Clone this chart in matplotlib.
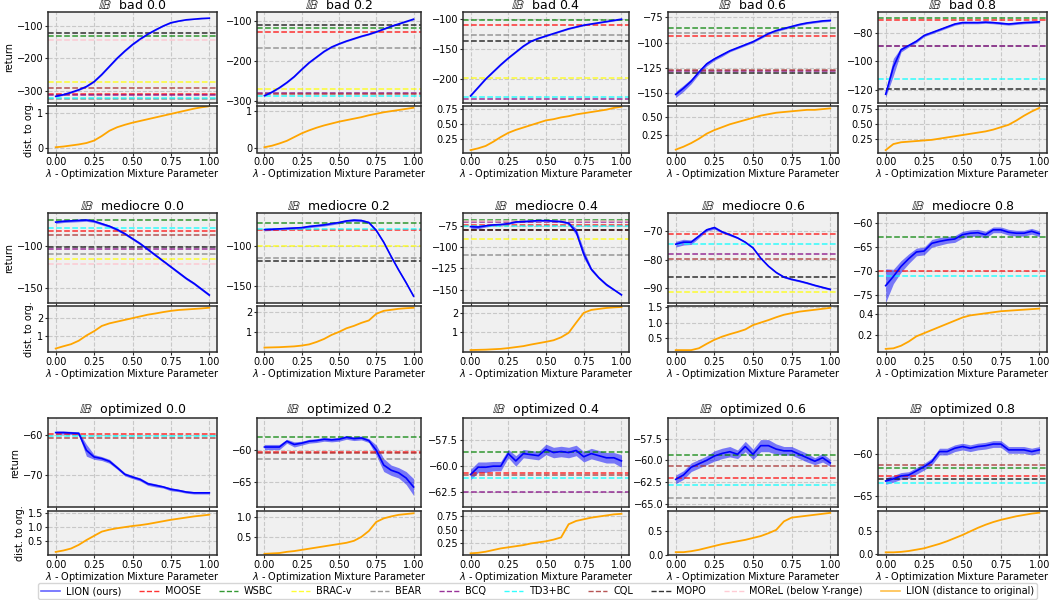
import numpy as np
import matplotlib
matplotlib.use("Agg")
import matplotlib.pyplot as plt
from matplotlib.lines import Line2D

# mixture parameter grid
LAMBDA = [0.0, 0.05, 0.1, 0.15, 0.2, 0.25, 0.3, 0.35, 0.4, 0.45, 0.5,
          0.55, 0.6, 0.65, 0.7, 0.75, 0.8, 0.85, 0.9, 0.95, 1.0]

METHODS = ["MOOSE", "WSBC", "BRAC-v", "BEAR", "BCQ", "TD3+BC", "CQL", "MOPO", "MOReL"]
METHOD_COLORS = {"MOOSE": "red", "WSBC": "green", "BRAC-v": "yellow", "BEAR": "gray",
                 "BCQ": "purple", "TD3+BC": "cyan", "CQL": "brown", "MOPO": "black",
                 "MOReL": "pink"}

# ---- bad ----
RET_BAD_00 = [-317, -312, -305, -297, -287, -272, -250, -225, -200, -178, -158,
              -141, -126, -113, -101, -91, -86, -82, -80, -78, -77]
SD_BAD_00 = [2, 2, 2, 2, 2, 2, 2, 2, 2, 2, 2, 2, 1.5, 1.5, 1.5, 1.5, 1, 1, 1, 1, 1]
DIST_BAD_00 = [0.03, 0.05, 0.08, 0.11, 0.15, 0.22, 0.35, 0.5, 0.6, 0.67, 0.73,
               0.78, 0.83, 0.88, 0.93, 0.98, 1.03, 1.08, 1.13, 1.17, 1.2]
BASE_BAD_00 = {"MOPO": -123, "WSBC": -133, "MOReL": -144, "BRAC-v": -272, "CQL": -292,
               "MOOSE": -311, "BCQ": -313, "TD3+BC": -322, "BEAR": -326}

RET_BAD_02 = [-288, -279, -268, -255, -240, -222, -205, -191, -177, -166, -158,
              -151, -145, -139, -134, -128, -121, -114, -108, -102, -96]
SD_BAD_02 = [1.5, 1.5, 1.5, 1.5, 1.5, 1.5, 1.5, 1.5, 1.5, 1.5, 1.5, 1.5, 1.5, 1.5,
             1.5, 1.5, 1.5, 1.5, 1.5, 1.5, 1.5]
DIST_BAD_02 = [0.03, 0.07, 0.13, 0.2, 0.3, 0.4, 0.48, 0.55, 0.61, 0.66, 0.71,
               0.75, 0.79, 0.83, 0.88, 0.92, 0.96, 0.99, 1.02, 1.05, 1.08]
BASE_BAD_02 = {"MOPO": -110, "WSBC": -117, "MOOSE": -128, "BEAR": -168, "BRAC-v": -271,
               "BCQ": -282, "CQL": -283, "TD3+BC": -289}

RET_BAD_04 = [-229, -215, -201, -189, -177, -166, -156, -146, -138, -133, -129,
              -125, -121, -117, -114, -111, -109, -107, -105, -103, -101]
SD_BAD_04 = [1, 1, 1, 1, 1, 1, 1, 1, 1, 1, 1, 1, 1, 1, 1, 1, 1, 1, 1, 1, 1]
DIST_BAD_04 = [0.06, 0.09, 0.13, 0.2, 0.28, 0.35, 0.4, 0.44, 0.48, 0.52, 0.56,
               0.58, 0.61, 0.63, 0.66, 0.68, 0.7, 0.72, 0.74, 0.77, 0.79]
BASE_BAD_04 = {"WSBC": -103, "MOOSE": -110, "BEAR": -128, "MOPO": -138, "BRAC-v": -199,
               "TD3+BC": -230, "BCQ": -234}

RET_BAD_06 = [-151, -145, -138, -129, -121, -116, -112, -108, -105, -102, -99,
              -95, -91, -88, -86, -84, -82, -80.5, -79.5, -78.5, -78]
SD_BAD_06 = [3, 3, 2.5, 2, 2, 1.5, 1.5, 1, 1, 1, 1, 1, 1, 1, 1, 1, 1, 1, 1, 1, 1]
DIST_BAD_06 = [0.05, 0.09, 0.14, 0.2, 0.27, 0.32, 0.36, 0.4, 0.43, 0.46, 0.49,
               0.52, 0.54, 0.56, 0.57, 0.58, 0.59, 0.6, 0.6, 0.61, 0.62]
BASE_BAD_06 = {"WSBC": -85, "BEAR": -90, "MOOSE": -93, "CQL": -127, "BCQ": -127.6,
               "MOPO": -129.6}

RET_BAD_08 = [-123, -104, -92, -89, -86, -82, -80, -78, -76, -74, -73,
              -73, -73, -72.7, -73, -73.5, -74, -73.5, -73, -72.8, -72.5]
SD_BAD_08 = [2, 6, 1.5, 1, 1, 0.8, 0.8, 0.8, 0.8, 0.8, 0.8, 0.8, 0.8, 0.8, 0.8,
             0.8, 0.8, 0.8, 0.8, 0.8, 0.8]
DIST_BAD_08 = [0.06, 0.16, 0.19, 0.2, 0.21, 0.22, 0.23, 0.25, 0.27, 0.29, 0.31,
               0.33, 0.35, 0.37, 0.4, 0.44, 0.48, 0.55, 0.63, 0.7, 0.76]
BASE_BAD_08 = {"WSBC": -70, "MOOSE": -71.2, "BCQ": -89.3, "BEAR": -89.6,
               "TD3+BC": -112.3, "MOPO": -119.3}

# ---- mediocre ----
RET_MED_00 = [-71, -70, -69.5, -69, -68.5, -70, -73, -76, -80, -85, -91,
              -97, -104, -111, -118, -125, -132, -139, -145, -152, -159]
SD_MED_00 = [1.5, 1.5, 1.5, 1.5, 1.5, 1.5, 1.5, 1.5, 1.5, 1.5, 1.5, 1.5, 1.5, 1.5,
             1.5, 1.5, 1.5, 1.5, 1.5, 1.5, 1.5]
DIST_MED_00 = [0.25, 0.38, 0.5, 0.7, 1.0, 1.25, 1.55, 1.7, 1.8, 1.9, 2.0,
               2.1, 2.2, 2.27, 2.35, 2.42, 2.47, 2.5, 2.53, 2.56, 2.6]
BASE_MED_00 = {"WSBC": -68.8, "TD3+BC": -78.4, "MOOSE": -82, "CQL": -87, "MOPO": -101.5,
               "BCQ": -103, "BEAR": -110, "BRAC-v": -116, "MOReL": -121}

RET_MED_02 = [-79, -78.5, -78, -77.5, -77, -76.5, -75, -74, -73, -71.5, -70,
              -68, -67, -67.5, -70, -80, -95, -113, -130, -146, -163]
SD_MED_02 = [1.5, 1.5, 1.5, 1.5, 1.5, 1.5, 1.5, 1.5, 1.5, 1.5, 1.5, 1.5, 1.5, 1.5,
             1.5, 1.5, 1.5, 1.5, 1.5, 1.5, 1.5]
DIST_MED_02 = [0.22, 0.23, 0.24, 0.26, 0.28, 0.32, 0.38, 0.5, 0.65, 0.85, 1.0,
               1.18, 1.3, 1.45, 1.57, 1.9, 2.05, 2.1, 2.15, 2.18, 2.2]
BASE_MED_02 = {"WSBC": -70, "TD3+BC": -78.3, "MOOSE": -80, "BRAC-v": -100,
               "BEAR": -115.4, "MOPO": -118.8}

RET_MED_04 = [-76, -76.5, -75, -74, -73.5, -72.5, -70.5, -70, -69.5, -69, -69,
              -69.5, -70, -72, -82, -108, -126, -136, -144, -150, -156]
SD_MED_04 = [2, 2, 1.5, 1, 1, 1, 1, 1, 1, 1, 1, 1, 1, 1.5, 4, 5, 2, 1.5, 1.5, 1, 1]
DIST_MED_04 = [0.1, 0.11, 0.12, 0.14, 0.16, 0.2, 0.25, 0.3, 0.38, 0.45, 0.52,
               0.6, 0.75, 0.98, 1.5, 2.0, 2.15, 2.2, 2.25, 2.28, 2.3]
BASE_MED_04 = {"WSBC": -68, "MOReL": -69.5, "BCQ": -70.7, "MOOSE": -74, "TD3+BC": -75.8,
               "CQL": -79.5, "MOPO": -80.5, "BRAC-v": -90.6, "BEAR": -109.8}

RET_MED_06 = [-74.5, -73.8, -73.8, -71.7, -69.5, -68.7, -70.2, -71.2, -72.3, -73.8, -75.8,
              -79.4, -82.2, -84.4, -86, -86.8, -87.4, -88.1, -88.9, -89.6, -90.3]
SD_MED_06 = [1, 1, 0.8, 0.6, 0.5, 0.5, 0.4, 0.4, 0.3, 0.3, 0.3, 0.3, 0.3, 0.3, 0.3,
             0.3, 0.3, 0.3, 0.3, 0.3, 0.3]
DIST_MED_06 = [0.12, 0.12, 0.12, 0.18, 0.32, 0.45, 0.55, 0.63, 0.7, 0.78, 0.92,
               1.0, 1.08, 1.17, 1.25, 1.3, 1.35, 1.38, 1.41, 1.44, 1.47]
BASE_MED_06 = {"MOOSE": -70.8, "TD3+BC": -74.3, "BCQ": -78, "CQL": -79.6, "MOPO": -86.1,
               "BRAC-v": -91.3}

RET_MED_08 = [-73, -71.1, -69, -67.4, -66, -65.8, -64.2, -63.8, -63.5, -63.3, -62.4,
              -62.1, -62, -62.4, -61.4, -61.4, -61.9, -62.1, -62.1, -61.7, -62.2]
SD_MED_08 = [3.5, 1.5, 1.2, 1, 0.8, 0.8, 0.8, 0.8, 0.7, 0.7, 0.7, 0.7, 0.7, 0.7, 0.6,
             0.6, 0.6, 0.6, 0.6, 0.6, 0.6]
DIST_MED_08 = [0.07, 0.075, 0.1, 0.14, 0.19, 0.22, 0.25, 0.28, 0.31, 0.34, 0.37,
               0.39, 0.4, 0.41, 0.42, 0.43, 0.435, 0.44, 0.445, 0.45, 0.455]
BASE_MED_08 = {"WSBC": -62.9, "MOOSE": -69.9, "TD3+BC": -71}

# ---- optimized ----
RET_OPT_00 = [-59.3, -59.3, -59.4, -59.5, -63.8, -65.5, -65.9, -66.6, -68.2, -69.9, -70.6,
              -71.2, -72.3, -72.7, -73.1, -73.7, -74.0, -74.4, -74.6, -74.6, -74.6]
SD_OPT_00 = [0.4, 0.4, 0.4, 0.4, 1.5, 0.6, 0.5, 0.5, 0.4, 0.4, 0.4, 0.4, 0.4, 0.4, 0.3,
             0.4, 0.3, 0.3, 0.3, 0.3, 0.3]
DIST_OPT_00 = [0.13, 0.18, 0.25, 0.38, 0.55, 0.7, 0.85, 0.92, 0.97, 1.01, 1.05,
               1.08, 1.12, 1.17, 1.22, 1.27, 1.31, 1.35, 1.39, 1.42, 1.45]
BASE_OPT_00 = {"MOOSE": -59.7, "TD3+BC": -60.2, "CQL": -60.8}

RET_OPT_02 = [-59.6, -59.6, -59.6, -58.7, -59.2, -59.0, -58.7, -58.6, -58.4, -58.5, -58.4,
              -58.1, -58.3, -58.2, -58.6, -60.1, -62.4, -63.2, -63.6, -64.4, -65.8]
SD_OPT_02 = [0.4, 0.4, 0.4, 0.3, 0.4, 0.3, 0.3, 0.3, 0.3, 0.3, 0.3, 0.3, 0.3, 0.3, 0.3,
             0.8, 1.0, 0.8, 0.8, 1.0, 1.3]
DIST_OPT_02 = [0.07, 0.08, 0.09, 0.12, 0.14, 0.17, 0.2, 0.23, 0.26, 0.29, 0.32,
               0.35, 0.4, 0.5, 0.65, 0.88, 0.97, 1.02, 1.06, 1.08, 1.1]
BASE_OPT_02 = {"WSBC": -58.1, "MOOSE": -60.4, "CQL": -60.5, "BEAR": -61.5}

RET_OPT_04 = [-60.8, -60.1, -60.1, -60.0, -60.0, -58.8, -59.5, -58.8, -58.9, -59.0, -58.4,
              -58.7, -58.6, -58.7, -58.5, -59.1, -58.8, -59.0, -59.2, -59.2, -59.5]
SD_OPT_04 = [0.5, 0.5, 0.5, 0.45, 0.45, 0.4, 0.5, 0.4, 0.4, 0.4, 0.5, 0.5, 0.5, 0.5, 0.5,
             0.5, 0.5, 0.5, 0.5, 0.5, 0.6]
DIST_OPT_04 = [0.07, 0.08, 0.1, 0.13, 0.16, 0.18, 0.2, 0.22, 0.25, 0.27, 0.29,
               0.32, 0.36, 0.6, 0.66, 0.69, 0.72, 0.74, 0.76, 0.78, 0.79]
BASE_OPT_04 = {"WSBC": -58.6, "MOOSE": -60.7, "CQL": -60.85, "TD3+BC": -61.1, "BCQ": -62.5}

RET_OPT_06 = [-62.2, -61.7, -60.8, -60.4, -60.0, -59.5, -59.2, -59.0, -59.3, -58.4, -59.3,
              -58.3, -58.3, -58.7, -58.9, -58.9, -59.3, -59.7, -60.1, -59.7, -60.3]
SD_OPT_06 = [0.5, 0.5, 0.5, 0.5, 0.5, 0.6, 0.6, 0.6, 0.5, 0.6, 0.6, 0.7, 0.7, 0.6, 0.5,
             0.5, 0.5, 0.5, 0.4, 0.5, 0.4]
DIST_OPT_06 = [0.05, 0.05, 0.07, 0.1, 0.14, 0.18, 0.22, 0.25, 0.28, 0.31, 0.35,
               0.39, 0.45, 0.52, 0.7, 0.78, 0.8, 0.82, 0.84, 0.86, 0.88]
BASE_OPT_06 = {"WSBC": -59.4, "CQL": -60.7, "MOOSE": -62.1, "TD3+BC": -62.8, "BEAR": -64.4}

RET_OPT_08 = [-63.2, -62.95, -62.6, -62.5, -62.0, -61.5, -60.9, -59.7, -59.7, -59.3, -59.1,
              -59.3, -59.1, -59.0, -58.8, -58.8, -59.5, -59.5, -59.5, -59.7, -59.5]
SD_OPT_08 = [0.4, 0.4, 0.4, 0.4, 0.4, 0.4, 0.4, 0.4, 0.4, 0.4, 0.4, 0.4, 0.4, 0.4, 0.4,
             0.4, 0.4, 0.4, 0.4, 0.4, 0.4]
DIST_OPT_08 = [0.03, 0.03, 0.04, 0.06, 0.09, 0.12, 0.17, 0.22, 0.28, 0.35, 0.42,
               0.5, 0.58, 0.65, 0.71, 0.76, 0.8, 0.84, 0.87, 0.9, 0.92]
BASE_OPT_08 = {"CQL": -61.3, "WSBC": -61.65, "MOOSE": -62.6, "MOPO": -63.0, "TD3+BC": -63.5}

PANELS = [
    ("bad", "0.0", RET_BAD_00, SD_BAD_00, DIST_BAD_00, BASE_BAD_00),
    ("bad", "0.2", RET_BAD_02, SD_BAD_02, DIST_BAD_02, BASE_BAD_02),
    ("bad", "0.4", RET_BAD_04, SD_BAD_04, DIST_BAD_04, BASE_BAD_04),
    ("bad", "0.6", RET_BAD_06, SD_BAD_06, DIST_BAD_06, BASE_BAD_06),
    ("bad", "0.8", RET_BAD_08, SD_BAD_08, DIST_BAD_08, BASE_BAD_08),
    ("mediocre", "0.0", RET_MED_00, SD_MED_00, DIST_MED_00, BASE_MED_00),
    ("mediocre", "0.2", RET_MED_02, SD_MED_02, DIST_MED_02, BASE_MED_02),
    ("mediocre", "0.4", RET_MED_04, SD_MED_04, DIST_MED_04, BASE_MED_04),
    ("mediocre", "0.6", RET_MED_06, SD_MED_06, DIST_MED_06, BASE_MED_06),
    ("mediocre", "0.8", RET_MED_08, SD_MED_08, DIST_MED_08, BASE_MED_08),
    ("optimized", "0.0", RET_OPT_00, SD_OPT_00, DIST_OPT_00, BASE_OPT_00),
    ("optimized", "0.2", RET_OPT_02, SD_OPT_02, DIST_OPT_02, BASE_OPT_02),
    ("optimized", "0.4", RET_OPT_04, SD_OPT_04, DIST_OPT_04, BASE_OPT_04),
    ("optimized", "0.6", RET_OPT_06, SD_OPT_06, DIST_OPT_06, BASE_OPT_06),
    ("optimized", "0.8", RET_OPT_08, SD_OPT_08, DIST_OPT_08, BASE_OPT_08),
]

# axis ranges / ticks per panel
YLIMS = [(-336, -58), (-305, -78), (-240, -89), (-159, -69.7), (-128.8, -65.6),
         (-168, -60), (-171, -58), (-165, -60), (-94.9, -63.6), (-76.5, -57.9),
         (-78.2, -55.6), (-68.9, -55.1), (-63.9, -55.4), (-65.4, -55.1), (-66.3, -55.7)]
YTICKS = [[-300, -200, -100], [-300, -200, -100], [-200, -150, -100],
          [-150, -125, -100, -75], [-120, -100, -80],
          [-150, -100], [-150, -100], [-150, -125, -100, -75], [-90, -80, -70],
          [-75, -70, -65, -60],
          [-70, -60], [-65, -60], [-62.5, -60, -57.5], [-65, -62.5, -60, -57.5], [-65, -60]]
DIST_YLIMS = [(-0.12, 1.22), (-0.11, 1.14), (0.02, 0.81), (0.01, 0.66), (0.02, 0.8),
              (0.05, 2.7), (0.0, 2.29), (0.0, 2.35), (0.06, 1.53), (0.04, 0.48),
              (0.02, 1.6), (0.04, 1.17), (0.04, 0.85), (-0.01, 0.93), (-0.03, 0.97)]
DIST_YTICKS = [[0, 1], [0, 1], [0.25, 0.5, 0.75], [0.25, 0.5], [0.25, 0.5, 0.75],
               [1, 2], [1, 2], [1, 2], [0.5, 1.0, 1.5], [0.2, 0.4],
               [0.5, 1.0, 1.5], [0.5, 1.0], [0.25, 0.5, 0.75], [0.0, 0.5], [0.0, 0.5]]

# layout in pixels (figure 1051 x 600)
W, H = 1051, 600
COL_X = [(48, 217), (257, 421), (463, 629), (668, 838), (878, 1047)]
ROW_MAIN = [(12, 102.5), (213, 302.5), (418, 507)]
ROW_DIST = [(105.5, 152.5), (306, 352), (510.5, 555)]

FACE = "#f0f0f0"
SPINE = "#2b2b2b"


def px_rect(x0, x1, y0, y1):
    return [x0 / W, 1 - y1 / H, (x1 - x0) / W, (y1 - y0) / H]


def style_ax(ax):
    ax.set_facecolor(FACE)
    ax.grid(True, linestyle="--", color="#c8c8c8", linewidth=0.8)
    ax.set_axisbelow(True)
    for s in ax.spines.values():
        s.set_color(SPINE)
        s.set_linewidth(1.1)
    ax.tick_params(labelsize=7, length=2, width=0.8, color=SPINE, pad=1.5)
    ax.set_xlim(-0.05, 1.05)
    ax.set_xticks([0.0, 0.25, 0.5, 0.75, 1.0])


fig = plt.figure(figsize=(W / 100, H / 100), dpi=100)
lam = np.array(LAMBDA)

for i, (ds, lvl, ret, sd, dist, base) in enumerate(PANELS):
    r, c = divmod(i, 5)
    x0, x1 = COL_X[c]
    ax = fig.add_axes(px_rect(x0, x1, *ROW_MAIN[r]))
    axd = fig.add_axes(px_rect(x0, x1, *ROW_DIST[r]))
    style_ax(ax)
    style_ax(axd)

    for m in METHODS:
        if m in base:
            ax.axhline(base[m], color=METHOD_COLORS[m], linestyle="--", linewidth=1.1, alpha=0.8)
    ret = np.array(ret)
    sd = np.array(sd)
    ax.fill_between(lam, ret - sd, ret + sd, color="blue", alpha=0.5, linewidth=0)
    ax.plot(lam, ret, color="blue", linewidth=1.2)
    ax.set_ylim(*YLIMS[i])
    ax.set_yticks(YTICKS[i])
    ax.tick_params(labelbottom=False)
    ax.set_title(r"$\mathbb{IB}$  " + ds + " " + lvl, fontsize=9, pad=2)

    axd.plot(lam, dist, color="orange", linewidth=1.3)
    axd.set_ylim(*DIST_YLIMS[i])
    axd.set_yticks(DIST_YTICKS[i])
    axd.set_xlabel(r"$\lambda$ - Optimization Mixture Parameter", fontsize=7, labelpad=0)

    if c == 0:
        ax.set_ylabel("return", fontsize=7, labelpad=2)
        axd.set_ylabel("dist. to org.", fontsize=7, labelpad=2)

handles = [Line2D([], [], color="blue", linewidth=1.2, alpha=0.6)]
labels = ["LION (ours)"]
for m in METHODS:
    handles.append(Line2D([], [], color=METHOD_COLORS[m], linestyle="--", linewidth=1.0, alpha=0.8))
    labels.append("MOReL (below Y-range)" if m == "MOReL" else m)
handles.append(Line2D([], [], color="orange", linewidth=1.2, alpha=0.7))
labels.append("LION (distance to original)")

fig.legend(handles, labels, loc="lower center", bbox_to_anchor=(0.5114, 0.0), ncol=11,
           fontsize=7, handlelength=2.0, columnspacing=1.85, borderpad=0.3,
           handletextpad=0.6, borderaxespad=0.1, fancybox=True)

fig.savefig("out.png", dpi=100)
